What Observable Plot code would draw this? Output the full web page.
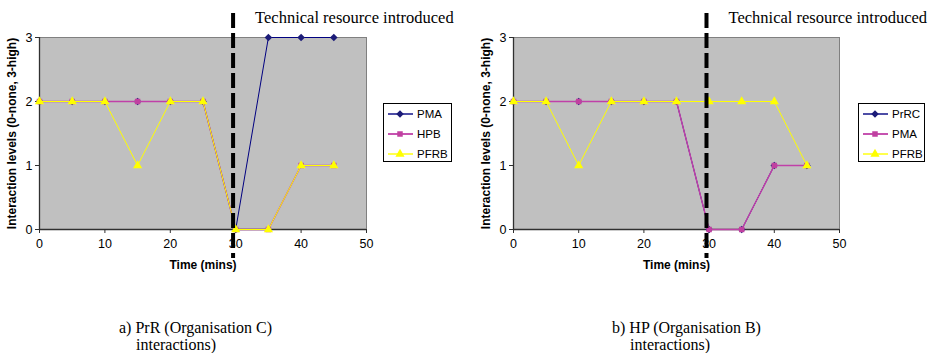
<!DOCTYPE html>
<html>
<head>
<meta charset="utf-8">
<script src="https://cdn.jsdelivr.net/npm/d3@7"></script>
<script src="https://cdn.jsdelivr.net/npm/@observablehq/plot@0.6"></script>
<style>
  html, body { margin: 0; padding: 0; background: #fff; }
  #wrap { position: relative; width: 938px; height: 353px; overflow: hidden; }
  .panel { position: absolute; top: 0; }
  .cap { position: absolute; font-family: "Liberation Serif", "Times New Roman", serif; font-size: 16px; line-height: 17px; color: #000; white-space: nowrap; }
</style>
</head>
<body>
<div id="wrap"></div>
<script>
// ---- data ----
const times = [0, 5, 10, 15, 20, 25, 30, 35, 40, 45];
// panel a) PrR (Organisation C)
const aNames = ["PMA", "HPB", "PFRB"];
const aPMA  = [2, 2, 2, 2, 2, 2, 0, 3, 3, 3];
const aHPB  = [2, 2, 2, 2, 2, 2, 0, 0, 1, 1];
const aPFRB = [2, 2, 2, 1, 2, 2, 0, 0, 1, 1];
// panel b) HP (Organisation B)
const bNames = ["PrRC", "PMA", "PFRB"];
const bPrRC = [2, 2, 2, 2, 2, 2, 0, 0, 1, 1];
const bPMA  = [2, 2, 2, 2, 2, 2, 0, 0, 1, 1];
const bPFRB = [2, 2, 1, 2, 2, 2, 2, 2, 2, 1];
const xTicks = [0, 10, 20, 30, 40, 50];
const yTicks = [0, 1, 2, 3];
const eventTime = 29.6;
const eventLabel = "Technical resource introduced";
const yLabel = "Interaction levels (0-none, 3-high)";
const xLabel = "Time (mins)";
const captionsA = ["a) PrR (Organisation C)", "interactions)"];
const captionsB = ["b) HP (Organisation B)", "interactions)"];

// ---- styles ----
const styles = [
  {stroke: "#000080", fill: "#1c1c78", symbol: "diamond2", d3sym: d3.symbolDiamond2, r: 3.4, sw: 1},
  {stroke: "#c040a8", fill: "#c040a0", symbol: "square", d3sym: d3.symbolSquare, r: 3.1, sw: 1.4},
  {stroke: "#ffff00", fill: "#ffff00", symbol: "triangle", d3sym: d3.symbolTriangle, r: 3.4, sw: 1}
];

function panel(names, seriesValues, opt) {
  const marks = [
    Plot.frame({fill: "#c0c0c0", stroke: "#808080"}),
    Plot.ruleX([0], {stroke: "#303030", strokeWidth: 1.3}),
    Plot.ruleY([0], {stroke: "#303030", strokeWidth: 1.3}),
    Plot.axisY({ticks: yTicks, tickFormat: d3.format("d"), tickSize: 4, tickPadding: 3, label: null, fontSize: 12.5, stroke: "#303030"}),
    Plot.axisX({ticks: xTicks, tickFormat: d3.format("d"), tickSize: 4, tickPadding: 6, label: null, fontSize: 12.5, stroke: "#303030"})
  ];
  seriesValues.forEach((vals, k) => {
    const s = styles[k];
    marks.push(Plot.line(times, {x: d => d, y: (d, i) => vals[i], stroke: s.stroke, strokeWidth: s.sw}));
    marks.push(Plot.dot(times, {x: d => d, y: (d, i) => vals[i], symbol: s.symbol, fill: s.fill, r: s.r, stroke: "none"}));
  });
  marks.push(Plot.ruleX([eventTime], {stroke: "#000", strokeWidth: 4, strokeDasharray: "15,5", insetTop: -24, insetBottom: -29}));
  marks.push(Plot.text([eventLabel], {x: () => eventTime, frameAnchor: "top", textAnchor: "start", lineAnchor: "bottom", dx: 22, dy: -15, fontFamily: "Liberation Serif, Times New Roman, serif", fontSize: 16.5, fill: "#000", text: d => d}));
  marks.push(Plot.text([yLabel], {frameAnchor: "left", textAnchor: "middle", rotate: -90, dx: -27, fontWeight: "bold", fontSize: 12, fill: "#000", text: d => d}));
  marks.push(Plot.text([xLabel], {frameAnchor: "bottom", textAnchor: "middle", dy: 39, fontWeight: "bold", fontSize: 12, fill: "#000", text: d => d}));

  const svg = Plot.plot({
    width: opt.width, height: 280,
    marginLeft: opt.ml, marginRight: opt.mr, marginTop: 37, marginBottom: 51,
    x: {domain: [0, 50], ticks: xTicks},
    y: {domain: [0, 3], ticks: yTicks},
    style: {fontFamily: "Liberation Sans, Arial, sans-serif", fontSize: "12.5px", background: "transparent", overflow: "visible", color: "#000"},
    marks
  });

  // legend box
  const bx = opt.width - opt.mr + opt.lgOff, by = 103, bw = opt.lgW, bh = 58;
  const g = d3.select(svg).append("g")
    .attr("font-family", "Liberation Sans, Arial, sans-serif")
    .attr("font-size", "11.5px")
    .attr("text-anchor", "start");
  g.append("rect").attr("x", bx + 0.5).attr("y", by + 0.5).attr("width", bw).attr("height", bh).attr("fill", "#fff").attr("stroke", "#000");
  names.forEach((n, k) => {
    const s = styles[k];
    const cy = by + 11 + k * 20;
    g.append("line").attr("x1", bx + 5).attr("x2", bx + 30).attr("y1", cy).attr("y2", cy).attr("stroke", s.stroke).attr("stroke-width", s.sw + 0.4);
    const area = Math.PI * s.r * s.r;
    g.append("path").attr("d", d3.symbol(s.d3sym, area)()).attr("transform", `translate(${bx + 17},${cy})`).attr("fill", s.fill);
    g.append("text").attr("x", bx + 34).attr("y", cy).attr("dy", "0.35em").attr("fill", "#000").attr("text-anchor", "start").text(n);
  });
  return svg;
}

const wrap = document.getElementById("wrap");
const pA = document.createElement("div"); pA.className = "panel"; pA.style.left = "0px";
pA.appendChild(panel(aNames, [aPMA, aHPB, aPFRB], {width: 469, ml: 39, mr: 103, lgOff: 17, lgW: 68}));
wrap.appendChild(pA);
const pB = document.createElement("div"); pB.className = "panel"; pB.style.left = "469px";
pB.appendChild(panel(bNames, [bPrRC, bPMA, bPFRB], {width: 469, ml: 44, mr: 99, lgOff: 19, lgW: 66}));
wrap.appendChild(pB);

function caption(lines, x1, x2) {
  const c1 = document.createElement("div"); c1.className = "cap";
  c1.style.left = x1 + "px"; c1.style.top = "319px"; c1.textContent = lines[0];
  const c2 = document.createElement("div"); c2.className = "cap";
  c2.style.left = x2 + "px"; c2.style.top = "336px"; c2.textContent = lines[1];
  wrap.appendChild(c1); wrap.appendChild(c2);
}
caption(captionsA, 119, 136);
caption(captionsB, 612, 630);
</script>
</body>
</html>
